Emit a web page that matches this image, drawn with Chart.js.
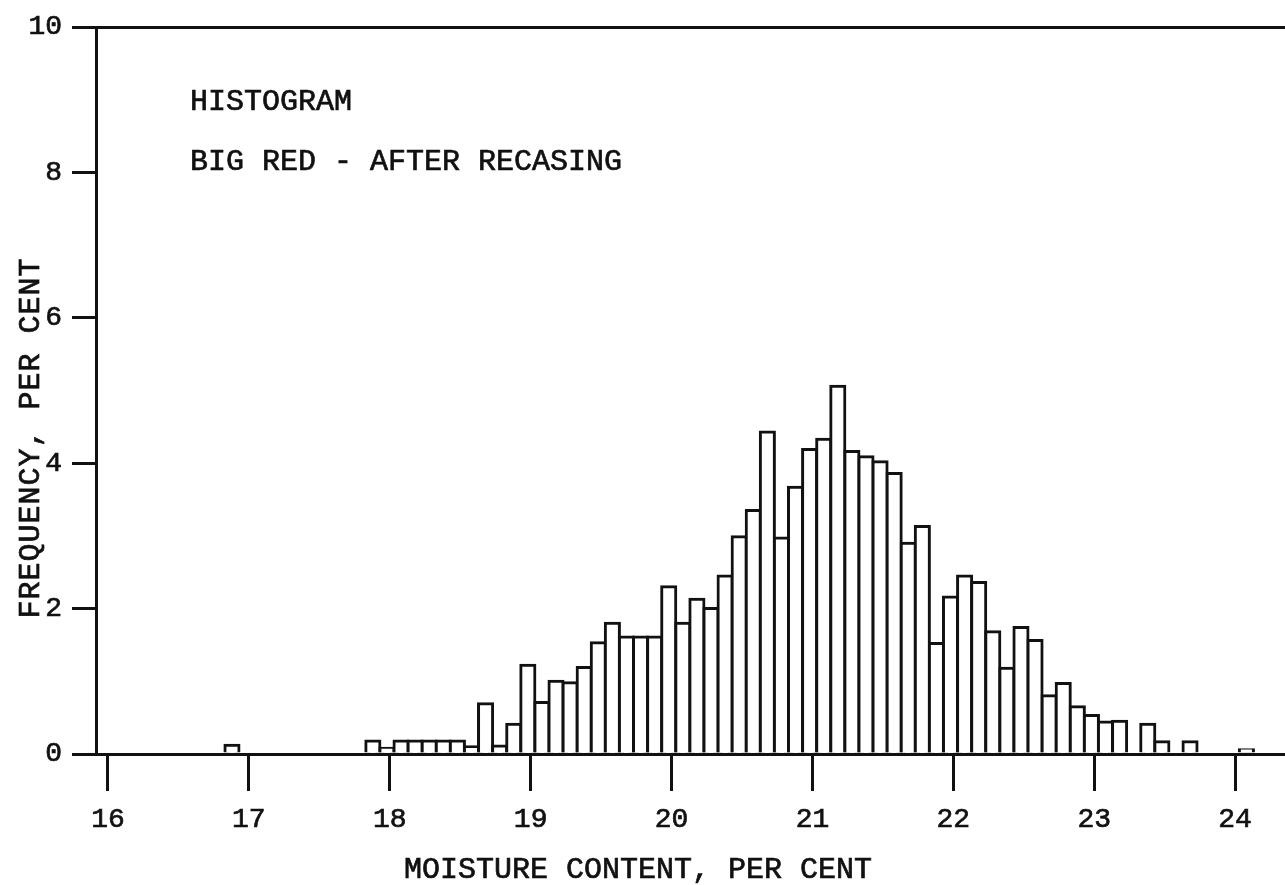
<!DOCTYPE html>
<html>
<head>
<meta charset="utf-8">
<script src="https://cdn.jsdelivr.net/npm/chart.js@4/dist/chart.umd.min.js"></script>
<style>
  html, body { margin: 0; padding: 0; background: #ffffff; }
  canvas { display: block; }
</style>
</head>
<body>
<canvas id="histogram" width="1285" height="885"></canvas>
<script>
// Moisture-content classes (per cent, 0.1 wide) and their frequency (per cent of kernels)
const moistureBins = [
  '16.9',
  '17.9', '18.0', '18.1', '18.2', '18.3', '18.4', '18.5', '18.6', '18.7', '18.8', '18.9',
  '19.0', '19.1', '19.2', '19.3', '19.4', '19.5', '19.6', '19.7', '19.8', '19.9',
  '20.0', '20.1', '20.2', '20.3', '20.4', '20.5', '20.6', '20.7', '20.8', '20.9',
  '21.0', '21.1', '21.2', '21.3', '21.4', '21.5', '21.6', '21.7', '21.8', '21.9',
  '22.0', '22.1', '22.2', '22.3', '22.4', '22.5', '22.6', '22.7', '22.8', '22.9',
  '23.0', '23.1', '23.2', '23.4', '23.5', '23.7',
  '24.1'
];
const frequencyPct = [
  0.12,
  0.18, 0.08, 0.18, 0.18, 0.18, 0.18, 0.18, 0.10, 0.69, 0.11, 0.41,
  1.22, 0.71, 1.00, 0.98, 1.19, 1.53, 1.80, 1.61, 1.61, 1.61,
  2.30, 1.80, 2.13, 2.00, 2.45, 2.99, 3.35, 4.43, 2.97, 3.67,
  4.19, 4.33, 5.06, 4.16, 4.09, 4.02, 3.86, 2.90, 3.13, 1.52,
  2.16, 2.45, 2.36, 1.68, 1.18, 1.74, 1.56, 0.80, 0.97, 0.65,
  0.53, 0.44, 0.45, 0.41, 0.17, 0.17,
  0.06
];
const xTickValues = [16, 17, 18, 19, 20, 21, 22, 23, 24];
const yTickValues = [0, 2, 4, 6, 8, 10];

const plotNotes = ['HISTOGRAM', 'BIG RED - AFTER RECASING'];
const xAxisTitle = 'MOISTURE CONTENT, PER CENT';
const yAxisTitle = 'FREQUENCY, PER CENT';

const INK = '#111111';
const TYPE = '"Liberation Mono", "Courier New", monospace';
// the class bars were ruled a touch to the left of the printed tick marks
const BIN_ALIGN = -0.02;

const points = moistureBins.map((b, i) => ({ x: parseFloat(b) + BIN_ALIGN, y: frequencyPct[i] }));

// typed labels: notes inside the frame and both axis titles
const typedText = {
  id: 'typedText',
  afterDraw(chart) {
    const ctx = chart.ctx;
    ctx.save();
    ctx.fillStyle = INK;
    ctx.strokeStyle = INK;
    ctx.lineWidth = 0.7;
    ctx.font = '30px ' + TYPE;
    ctx.textAlign = 'left';
    ctx.textBaseline = 'alphabetic';
    const typed = (s, x, y) => { ctx.fillText(s, x, y); ctx.strokeText(s, x, y); };
    typed(plotNotes[0], 190, 110);
    typed(plotNotes[1], 190, 170);
    typed(xAxisTitle, 404, 878);
    ctx.translate(39, 438);
    ctx.rotate(-Math.PI / 2);
    ctx.textAlign = 'center';
    ctx.letterSpacing = '1px';
    typed(yAxisTitle, 0, 0);
    ctx.restore();
  }
};

const tickFont = { family: TYPE, size: 28 };

new Chart(document.getElementById('histogram'), {
  type: 'bar',
  data: {
    datasets: [{
      data: points,
      backgroundColor: '#ffffff',
      borderColor: INK,
      borderWidth: { top: 3, left: 3, right: 3, bottom: 0 },
      borderSkipped: 'start',
      inflateAmount: 1.5,
      barPercentage: 1,
      categoryPercentage: 1
    }]
  },
  options: {
    responsive: false,
    animation: false,
    devicePixelRatio: 1,
    layout: { padding: { top: 27, left: 0, right: 0, bottom: 0 } },
    plugins: {
      legend: { display: false },
      tooltip: { enabled: false },
      title: { display: false }
    },
    scales: {
      x: {
        type: 'linear',
        min: 15.915,
        max: 24.354,
        offset: false,
        z: 1,
        afterFit: s => { s.height = 131; },
        afterBuildTicks: s => { s.ticks = xTickValues.map(v => ({ value: v })); },
        ticks: {
          font: tickFont,
          color: INK,
          textStrokeColor: INK,
          textStrokeWidth: 0.7,
          padding: 12,
          maxRotation: 0,
          autoSkip: false,
          callback: v => String(v)
        },
        grid: {
          offset: false,
          drawOnChartArea: false,
          drawTicks: true,
          tickLength: 37,
          tickWidth: 3,
          tickColor: INK
        },
        border: { display: true, color: INK, width: 3 }
      },
      y: {
        type: 'linear',
        min: 0,
        max: 10,
        z: 1,
        afterFit: s => { s.width = 96; },
        afterBuildTicks: s => { s.ticks = yTickValues.map(v => ({ value: v })); },
        ticks: {
          font: tickFont,
          color: INK,
          textStrokeColor: INK,
          textStrokeWidth: 0.7,
          padding: 10,
          callback: v => String(v)
        },
        grid: {
          drawOnChartArea: true,
          color: c => (c.tick && c.tick.value === 10) ? INK : 'rgba(0,0,0,0)',
          lineWidth: 3,
          drawTicks: true,
          tickLength: 24,
          tickWidth: 3,
          tickColor: INK
        },
        border: { display: true, color: INK, width: 3 }
      }
    }
  },
  plugins: [typedText]
});
</script>
</body>
</html>
